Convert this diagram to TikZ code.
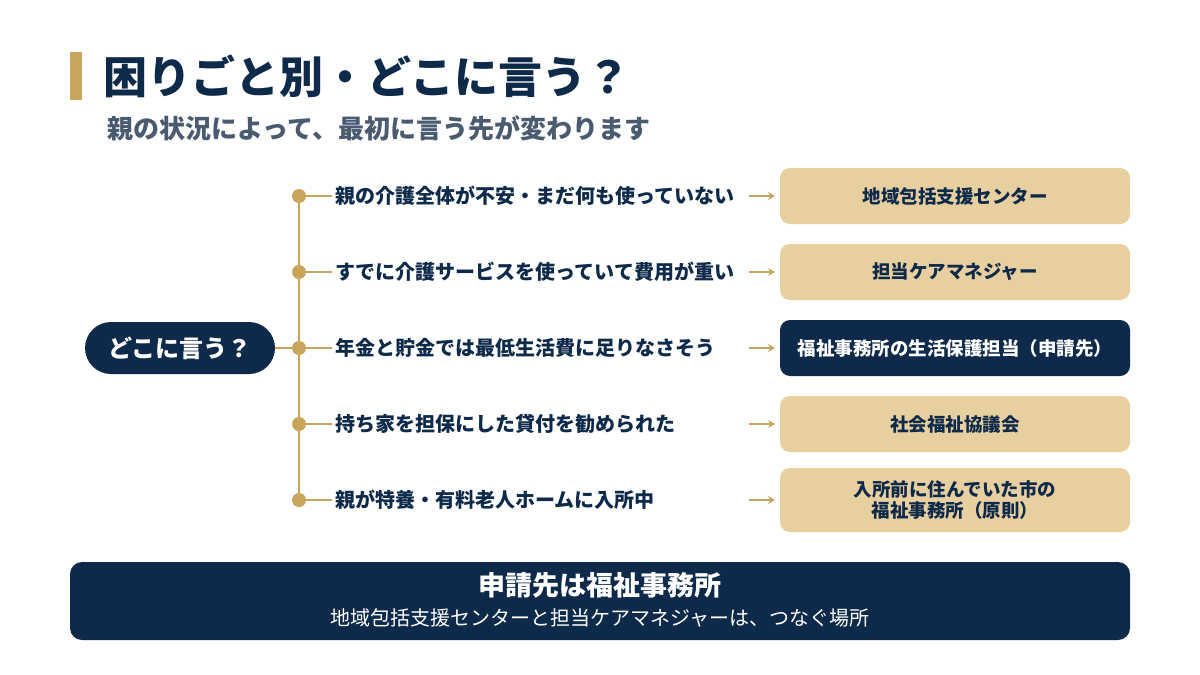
\documentclass[tikz,border=0pt]{standalone}
\usepackage{fontspec}
\setmainfont{Noto Sans CJK JP}
\usetikzlibrary{positioning,arrows.meta}
\definecolor{navy}{HTML}{0E2A4A}
\definecolor{gold}{HTML}{C9A55C}
\definecolor{tan}{HTML}{E8CF9F}
\definecolor{slate}{HTML}{4A5A70}
\tikzset{
  caseline/.style={anchor=west,text=navy,font=\fontsize{20}{24}\selectfont\bfseries},
  answer/.style={rounded corners=10pt,fill=tan,minimum width=350pt,minimum height=56pt,text=navy,font=\fontsize{18.5}{22}\selectfont\bfseries,align=center},
  goldline/.style={gold,line width=2.5pt},
  pointer/.style={gold,line width=2.2pt,-{Stealth[length=7pt,width=8pt]}}
}
\begin{document}
\begin{tikzpicture}[x=1pt,y=-1pt]
\useasboundingbox[fill=white] (0,0) rectangle (1200,675);
% title
\fill[gold] (70,52) rectangle (82,100);
\node[anchor=west,text=navy,font=\fontsize{44}{50}\selectfont\bfseries] (title) at (100,76) {困りごと別・どこに言う？};
\node[anchor=west,text=slate,font=\fontsize{26}{30}\selectfont\bfseries] (sub) at (104,128) {親の状況によって、最初に言う先が変わります};
% root
\node[fill=navy,rounded corners=26pt,minimum width=190pt,minimum height=52pt,text=white,font=\fontsize{24}{28}\selectfont\bfseries] (root) at (180,348) {どこに言う？};
\coordinate (top) at (299,196);
\coordinate (bot) at (299,500);
\draw[goldline] (top) -- (bot);
\draw[goldline] (root.east) -- (299,348);
% cases
\foreach \y/\txt/\name in {196/親の介護全体が不安・まだ何も使っていない/a,272/すでに介護サービスを使っていて費用が重い/b,348/年金と貯金では最低生活費に足りなさそう/c,424/持ち家を担保にした貸付を勧められた/d,500/親が特養・有料老人ホームに入所中/e}{
  \coordinate (dot\name) at (299,\y);
  \fill[gold] (dot\name) circle (7);
  \node[caseline] (case\name) at (332,\y) {\txt};
  \draw[goldline] (dot\name) -- (case\name.west);
  \coordinate (from\name) at (749,\y);
  \coordinate (to\name) at (775,\y);
  \draw[pointer] (from\name) -- (to\name);
}
\node[answer] (ansa) at (955,196) {地域包括支援センター};
\node[answer] (ansb) at (955,272) {担当ケアマネジャー};
\node[answer,fill=navy,text=white] (ansc) at (955,348) {福祉事務所の生活保護担当（申請先）};
\node[answer] (ansd) at (955,424) {社会福祉協議会};
\node[answer,minimum height=64pt,font=\fontsize{18.5}{21}\selectfont\bfseries] (anse) at (955,500) {入所前に住んでいた市の\\福祉事務所（原則）};
% bottom note
\fill[navy,rounded corners=12pt] (70,562) rectangle (1130,640);
\node[text=white,font=\fontsize{27}{31}\selectfont\bfseries] (note) at (600,585) {申請先は福祉事務所};
\node[text=white,font=\fontsize{20}{24}\selectfont] (notesub) at (600,618) {地域包括支援センターと担当ケアマネジャーは、つなぐ場所};
\end{tikzpicture}
\end{document}
